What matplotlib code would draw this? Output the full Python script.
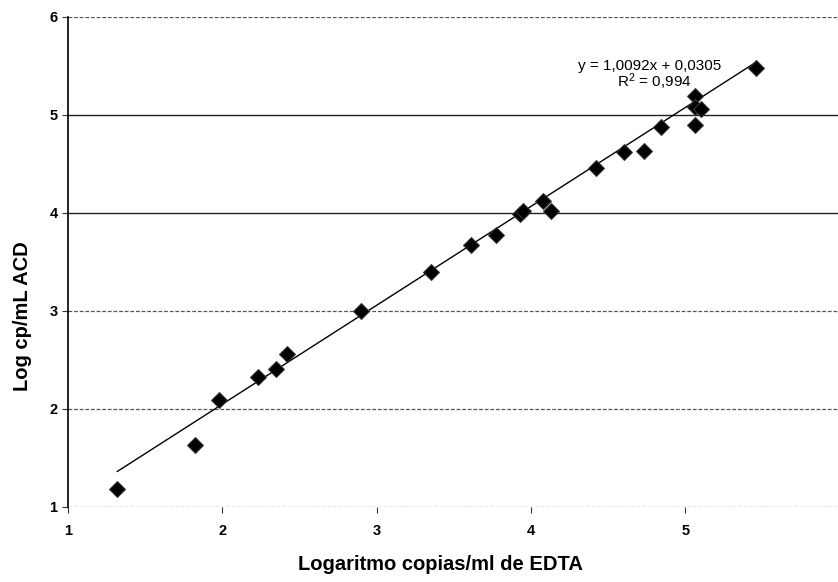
import numpy as np
import matplotlib.pyplot as plt

plt.rcParams['font.family'] = ['Liberation Sans', 'DejaVu Sans']

# log copies/ml EDTA (x) vs log cp/mL ACD (y)
edta = [1.32, 1.82, 1.98, 2.23, 2.35, 2.42, 2.90, 3.35, 3.61, 3.77, 3.93, 3.95,
        4.08, 4.13, 4.42, 4.60, 4.73, 4.84, 5.06, 5.06, 5.10, 5.06, 5.46]
acd = [1.18, 1.63, 2.09, 2.33, 2.41, 2.56, 3.00, 3.40, 3.67, 3.78, 3.99, 4.02,
       4.12, 4.02, 4.46, 4.62, 4.63, 4.88, 5.19, 5.08, 5.06, 4.90, 5.48]
slope, intercept = 1.0092, 0.0305
xticks = [1, 2, 3, 4, 5, 6]
yticks = [1, 2, 3, 4, 5, 6]

fig = plt.figure(figsize=(8.38, 5.82), dpi=100)
ax = fig.add_axes([0.0811, 0.1289, 0.921, 0.842])

# gridlines (scanned look: some faint dotted, some darker)
for yv in yticks:
    if yv in (4, 5):
        ax.axhline(yv, color='#222222', lw=1.0, zorder=1)
    else:
        ax.axhline(yv, color='#555555', lw=0.9, ls=(0, (3, 1.5)), zorder=1)

xs = np.array([min(edta), max(edta)])
ax.plot(xs, slope * xs + intercept, color='black', lw=1.0, zorder=2)
ax.scatter(edta, acd, marker='D', s=65, facecolor='black', edgecolor='#333333',
           linewidths=0.8, zorder=3)

ax.text(4.77, 5.50, 'y = 1,0092x + 0,0305', ha='center', va='center', fontsize=11)
ax.text(4.80, 5.34, '$\\mathregular{R^2}$ = 0,994', ha='center', va='center', fontsize=11)

ax.set_xlim(1, 6)
ax.set_ylim(1, 6)
ax.set_xticks(xticks)
ax.set_yticks(yticks)
ax.set_xticklabels([str(v) if v < 6 else '' for v in xticks], fontsize=10.5, fontweight='bold')
ax.set_yticklabels([str(v) for v in yticks], fontsize=10.5, fontweight='bold')
ax.tick_params(axis='both', length=4, width=0.8, color='#333333')
ax.tick_params(axis='x', pad=8)

for s in ('top', 'right', 'bottom'):
    ax.spines[s].set_visible(False)
ax.spines['left'].set_linewidth(1.2)

ax.set_xlabel('Logaritmo copias/ml de EDTA', fontsize=14.5, fontweight='bold')
ax.set_ylabel('Log cp/mL ACD', fontsize=14.5, fontweight='bold')
ax.xaxis.set_label_coords(0.482, -0.098)
ax.yaxis.set_label_coords(-0.046, 0.39)

fig.savefig('out.png', dpi=100)
